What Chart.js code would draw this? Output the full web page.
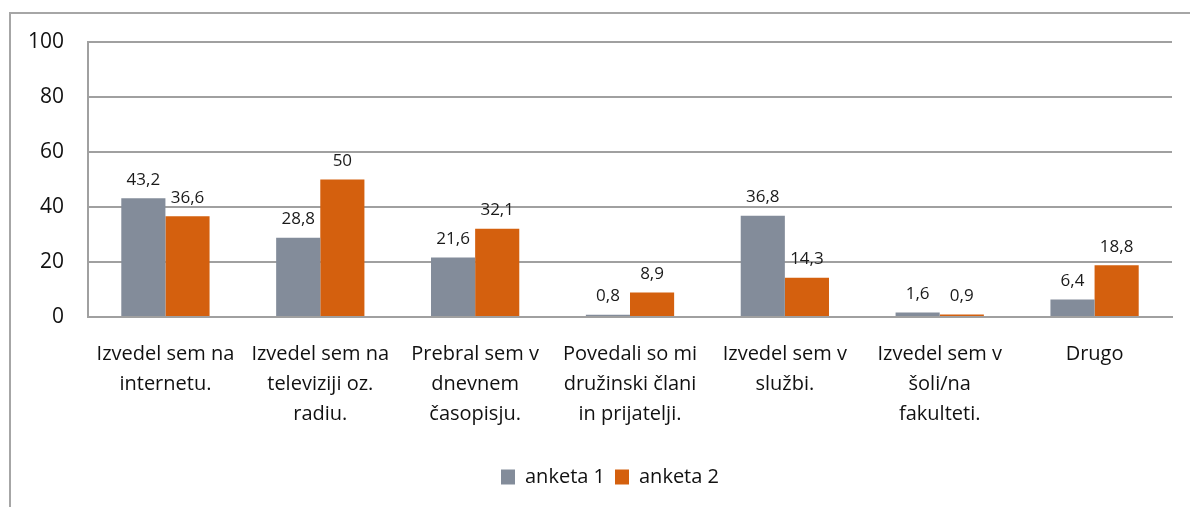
<!DOCTYPE html>
<html>
<head>
<meta charset="utf-8">
<script src="https://cdn.jsdelivr.net/npm/chart.js@4"></script>
<style>
  html, body { margin: 0; padding: 0; background: #fff; overflow: hidden; }
  #wrap { position: relative; width: 1190px; height: 507px; }
  #frame { position: absolute; left: 9px; top: 12px; width: 1200px; height: 520px;
           border-left: 2px solid #a6a6a6; border-top: 2px solid #a6a6a6; }
  canvas { position: absolute; left: 0; top: 0; }
</style>
</head>
<body>
<div id="wrap">
  <div id="frame"></div>
  <canvas id="chart" width="1190" height="507"></canvas>
</div>
<script>
const categories = [
    ["Izvedel sem na", "internetu."],
    ["Izvedel sem na", "televiziji oz.", "radiu."],
    ["Prebral sem v", "dnevnem", "časopisju."],
    ["Povedali so mi", "družinski člani", "in prijatelji."],
    ["Izvedel sem v", "službi."],
    ["Izvedel sem v", "šoli/na", "fakulteti."],
    ["Drugo"],
];
const anketa1 = [43.2, 28.8, 21.6, 0.8, 36.8, 1.6, 6.4];
const anketa2 = [36.6, 50, 32.1, 8.9, 14.3, 0.9, 18.8];
const seriesNames = ["anketa 1", "anketa 2"];
const yTicks = [0, 20, 40, 60, 80, 100];

const FONT = "'Open Sans', sans-serif";

// labels above the bars, comma as decimal sign
const valueLabels = {
    id: "valueLabels",
    afterUpdate(chart) {
        // legend sits a bit right of centre in the original
        const lg = chart.legend;
        if (lg) {
            lg.left += 24;
            lg.right += 24;
            lg.adjustHitBoxes();
        }
    },
    afterDatasetsDraw(chart) {
        const ctx = chart.ctx;
        ctx.save();
        ctx.font = "17px " + FONT;
        ctx.fillStyle = "#1a1a1a";
        ctx.textAlign = "center";
        ctx.textBaseline = "bottom";
        chart.data.datasets.forEach((ds, i) => {
            chart.getDatasetMeta(i).data.forEach((bar, j) => {
                const txt = String(ds.data[j]).replace(".", ",");
                ctx.fillText(txt, bar.x, bar.y - 10);
            });
        });
        ctx.restore();
    },
};

const ctx = document.getElementById("chart").getContext("2d");
new Chart(ctx, {
    type: "bar",
    data: {
        labels: categories,
        datasets: [
            { label: seriesNames[0], data: anketa1, backgroundColor: "#838c9a" },
            { label: seriesNames[1], data: anketa2, backgroundColor: "#d4600e" },
        ],
    },
    options: {
        responsive: false,
        animation: false,
        layout: { padding: { left: 0, right: 18, top: 42, bottom: 10 } },
        datasets: { bar: { categoryPercentage: 0.57, barPercentage: 1 } },
        scales: {
            x: {
                grid: { display: false },
                border: { color: "#a0a0a0", width: 2 },
                ticks: {
                    color: "#111",
                    font: { family: FONT, size: 20, lineHeight: 1.5 },
                    maxRotation: 0,
                    autoSkip: false,
                    padding: 14,
                },
                afterFit(scale) { scale.height = 140; },
            },
            y: {
                min: 0,
                max: 100,
                afterBuildTicks(scale) { scale.ticks = yTicks.map((v) => ({ value: v })); },
                grid: { color: "#a0a0a0", lineWidth: 2, drawTicks: false },
                border: { color: "#a0a0a0", width: 2 },
                ticks: {
                    color: "#111",
                    font: { family: FONT, size: 21 },
                    padding: 24,
                },
                afterFit(scale) { scale.width = 88; },
            },
        },
        plugins: {
            legend: {
                position: "bottom",
                labels: {
                    boxWidth: 14,
                    boxHeight: 15,
                    color: "#111",
                    font: { family: FONT, size: 20 },
                    padding: 10,
                },
            },
            tooltip: { enabled: false },
        },
    },
    plugins: [valueLabels],
});
</script>
</body>
</html>
